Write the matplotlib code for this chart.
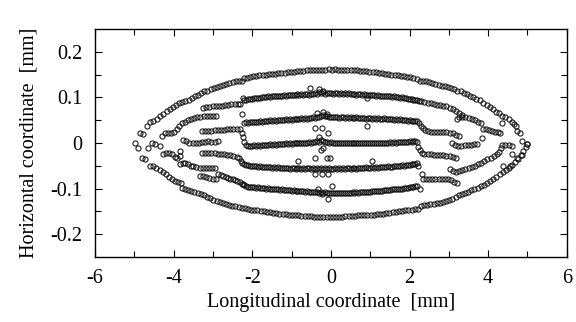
import matplotlib
matplotlib.use("Agg")
import matplotlib.pyplot as plt

plt.rcParams['font.family'] = ['Liberation Serif', 'DejaVu Serif']
plt.rcParams['axes.unicode_minus'] = False

# ---------------- data (mm) ----------------
# shared x positions of the five dense central bands
xc = [-2.20, -2.15, -2.10, -2.05, -2.00, -1.95, -1.90, -1.85, -1.80, -1.75,
      -1.70, -1.65, -1.60, -1.55, -1.50, -1.45, -1.40, -1.35, -1.30, -1.25,
      -1.20, -1.15, -1.10, -1.05, -1.00, -0.95, -0.90, -0.85, -0.80, -0.75,
      -0.70, -0.65, -0.60, -0.55, -0.50, -0.45, -0.40, -0.35, -0.30, -0.25,
      -0.20, -0.15, -0.10, -0.05, 0.00, 0.05, 0.10, 0.15, 0.20, 0.25,
      0.30, 0.35, 0.40, 0.45, 0.50, 0.55, 0.60, 0.65, 0.70, 0.75,
      0.80, 0.85, 0.90, 0.95, 1.00, 1.05, 1.10, 1.15, 1.20, 1.25,
      1.30, 1.35, 1.40, 1.45, 1.50, 1.55, 1.60, 1.65, 1.70, 1.75,
      1.80, 1.85, 1.90, 1.95, 2.00, 2.05, 2.10, 2.15, 2.20]

band1 = [.094, .095, .096, .096, .097, .098, .098, .099, .099, .100,
         .101, .100, .102, .101, .102, .103, .102, .104, .103, .104,
         .105, .104, .105, .106, .105, .106, .105, .107, .106, .107,
         .106, .108, .107, .106, .108, .107, .110, .108, .111, .109,
         .111, .108, .110, .109, .110, .108, .110, .109, .108, .110,
         .108, .109, .107, .109, .108, .107, .108, .106, .107, .108,
         .106, .107, .105, .106, .106, .105, .106, .104, .105, .104,
         .103, .104, .102, .103, .103, .101, .102, .100, .101, .099,
         .100, .098, .099, .097, .097, .096, .095, .095, .094]

band2 = [.044, .045, .044, .046, .045, .047, .046, .047, .048, .047,
         .048, .049, .048, .050, .049, .050, .049, .051, .050, .051,
         .050, .052, .051, .052, .051, .053, .052, .053, .052, .054,
         .053, .054, .053, .055, .054, .056, .055, .058, .057, .060,
         .061, .059, .060, .058, .057, .058, .056, .057, .055, .057,
         .056, .055, .056, .054, .056, .055, .054, .056, .054, .055,
         .054, .055, .053, .054, .055, .053, .054, .053, .054, .052,
         .053, .054, .052, .053, .052, .053, .051, .052, .051, .052,
         .050, .051, .050, .049, .050, .049, .048, .049, .048]

band3 = [.002, -.004, -.007, -.006, -.007, -.005, -.006, -.005, -.006, -.004,
         -.005, -.004, -.005, -.003, -.004, -.003, -.004, -.002, -.003, -.002,
         -.003, -.001, -.002, -.001, -.002, .000, -.001, .000, -.001, .001,
         .000, .001, .000, .002, .001, .003, .002, .005, .003, .006,
         .004, .002, .003, .001, .002, .000, .001, -.001, .001, .000,
         -.001, .001, .000, -.001, .001, .000, -.001, .000, -.001, .001,
         .000, -.001, .000, -.001, .000, -.001, .000, .001, .000, .001,
         .000, .001, .000, .001, .002, .001, .002, .001, .002, .003,
         .002, .003, .002, .003, .004, .003, .004, .004, .003]

band4 = [-.046, -.048, -.049, -.050, -.050, -.051, -.050, -.052, -.051, -.052,
         -.053, -.052, -.053, -.052, -.054, -.053, -.054, -.053, -.055, -.054,
         -.055, -.054, -.055, -.056, -.054, -.055, -.056, -.055, -.054, -.056,
         -.055, -.056, -.054, -.055, -.056, -.055, -.057, -.055, -.056, -.054,
         -.057, -.055, -.056, -.055, -.057, -.056, -.055, -.056, -.055, -.056,
         -.055, -.056, -.054, -.055, -.056, -.054, -.055, -.056, -.054, -.055,
         -.054, -.055, -.053, -.054, -.055, -.053, -.054, -.053, -.054, -.052,
         -.053, -.052, -.053, -.051, -.052, -.052, -.051, -.050, -.051, -.050,
         -.049, -.050, -.048, -.049, -.048, -.047, -.046, -.046, -.045]

band5 = [-.092, -.094, -.096, -.096, -.097, -.097, -.098, -.097, -.099, -.098,
         -.099, -.100, -.099, -.101, -.100, -.101, -.102, -.101, -.103, -.102,
         -.103, -.104, -.103, -.104, -.105, -.104, -.105, -.106, -.105, -.106,
         -.106, -.107, -.106, -.107, -.108, -.107, -.108, -.107, -.109, -.108,
         -.109, -.108, -.110, -.109, -.110, -.109, -.110, -.109, -.110, -.109,
         -.110, -.109, -.110, -.109, -.109, -.108, -.109, -.108, -.109, -.108,
         -.108, -.107, -.108, -.107, -.107, -.106, -.106, -.105, -.106, -.105,
         -.105, -.104, -.104, -.103, -.103, -.102, -.102, -.101, -.101, -.100,
         -.100, -.099, -.099, -.098, -.097, -.097, -.096, -.095, -.094]

outer_top = [(-4.69, .037), (-4.60, .045), (-4.52, .048), (-4.43, .052), (-4.35, .059),
             (-4.26, .064), (-4.18, .070), (-4.10, .074), (-4.02, .078), (-3.94, .084),
             (-3.86, .087), (-3.78, .089), (-3.70, .092), (-3.62, .095), (-3.54, .099),
             (-3.46, .102), (-3.38, .106), (-3.30, .110), (-3.22, .113), (-3.14, .115),
             (-3.06, .118), (-2.98, .121), (-2.90, .123), (-2.82, .126), (-2.74, .128),
             (-2.66, .130), (-2.58, .132), (-2.50, .134), (-2.42, .135), (-2.34, .136),
             (-2.27, .137), (-2.22, .142), (-2.14, .143), (-2.06, .144), (-1.98, .146),
             (-1.90, .146), (-1.82, .148), (-1.74, .149), (-1.66, .150), (-1.58, .151),
             (-1.50, .151), (-1.42, .152), (-1.34, .153), (-1.26, .154), (-1.18, .154),
             (-1.10, .155), (-1.02, .156), (-0.94, .156), (-0.86, .157), (-0.78, .158),
             (-0.70, .158), (-0.62, .159), (-0.54, .159), (-0.46, .160), (-0.38, .160),
             (-0.30, .161), (-0.22, .160), (-0.14, .161), (-0.06, .162), (0.02, .161),
             (0.10, .162), (0.18, .161), (0.26, .161), (0.34, .160), (0.42, .161),
             (0.50, .160), (0.58, .159), (0.66, .159), (0.74, .158), (0.82, .158),
             (0.90, .157), (0.98, .156), (1.06, .156), (1.14, .155), (1.22, .154),
             (1.30, .153), (1.38, .152), (1.46, .151), (1.54, .150), (1.62, .149),
             (1.70, .148), (1.78, .147), (1.86, .146), (1.94, .145), (2.02, .144),
             (2.10, .142), (2.18, .140), (2.26, .137), (2.34, .136), (2.42, .135),
             (2.50, .133), (2.58, .131), (2.66, .129), (2.74, .128), (2.82, .126),
             (2.90, .124), (2.98, .122), (3.06, .120), (3.14, .118), (3.22, .115),
             (3.30, .113), (3.38, .110), (3.46, .107), (3.54, .103), (3.62, .100),
             (3.70, .097), (3.78, .094), (3.88, .087), (3.96, .083), (4.04, .079),
             (4.12, .074), (4.20, .069), (4.28, .065), (4.36, .060), (4.44, .056),
             (4.52, .052), (4.60, .047), (4.66, .042), (4.72, .037)]

outer_bottom = [(-4.60, -.050), (-4.52, -.051), (-4.44, -.055), (-4.36, -.059), (-4.28, -.063),
                (-4.20, -.068), (-4.12, -.075), (-4.04, -.080), (-3.96, -.083), (-3.88, -.086),
                (-3.82, -.088), (-3.79, -.099), (-3.71, -.101), (-3.63, -.103), (-3.55, -.105),
                (-3.47, -.107), (-3.39, -.110), (-3.31, -.112), (-3.23, -.115), (-3.15, -.118),
                (-3.07, -.121), (-2.99, -.124), (-2.91, -.127), (-2.83, -.130), (-2.75, -.132),
                (-2.67, -.134), (-2.59, -.136), (-2.51, -.138), (-2.43, -.139), (-2.35, -.141),
                (-2.27, -.142), (-2.19, -.143), (-2.11, -.144), (-2.03, -.146), (-1.95, -.147),
                (-1.87, -.148), (-1.79, -.149), (-1.71, -.150), (-1.63, -.151), (-1.55, -.152),
                (-1.47, -.153), (-1.39, -.154), (-1.31, -.155), (-1.23, -.156), (-1.15, -.156),
                (-1.07, -.157), (-0.99, -.158), (-0.91, -.158), (-0.83, -.159), (-0.75, -.160),
                (-0.67, -.160), (-0.59, -.161), (-0.51, -.161), (-0.43, -.162), (-0.35, -.162),
                (-0.27, -.162), (-0.19, -.163), (-0.11, -.162), (-0.03, -.163), (0.05, -.162),
                (0.13, -.163), (0.21, -.162), (0.29, -.162), (0.37, -.161), (0.45, -.161),
                (0.53, -.160), (0.61, -.160), (0.69, -.159), (0.77, -.159), (0.85, -.158),
                (0.93, -.158), (1.01, -.157), (1.09, -.157), (1.17, -.156), (1.25, -.155),
                (1.33, -.155), (1.41, -.154), (1.49, -.153), (1.57, -.152), (1.65, -.151),
                (1.73, -.150), (1.81, -.149), (1.89, -.148), (1.97, -.147), (2.05, -.146),
                (2.13, -.145), (2.21, -.144), (2.29, -.138), (2.37, -.137), (2.45, -.135),
                (2.53, -.134), (2.61, -.133), (2.69, -.132), (2.77, -.131), (2.85, -.130),
                (2.93, -.128), (3.01, -.125), (3.09, -.122), (3.17, -.119), (3.25, -.115),
                (3.33, -.112), (3.41, -.110), (3.49, -.107), (3.57, -.104), (3.65, -.101),
                (3.73, -.098), (3.81, -.095), (3.89, -.092), (3.97, -.088), (4.05, -.084),
                (4.13, -.080), (4.21, -.075), (4.29, -.069), (4.37, -.064), (4.45, -.059),
                (4.53, -.054), (4.61, -.048), (4.69, -.042), (4.77, -.035), (4.83, -.027),
                (4.89, -.018), (4.95, -.009), (5.00, -.002)]

left_tip = [(-4.98, .000), (-4.91, -.011), (-4.86, .022), (-4.78, .020), (-4.81, -.032),
            (-4.73, -.036), (-4.65, -.012), (-4.56, .001), (-4.47, -.003), (-4.36, -.006)]

left_upper_a = [(-4.30, .015), (-4.22, .022), (-4.14, .021), (-4.06, .022), (-3.98, .024),
                (-3.92, .030), (-3.86, .038), (-3.80, .044), (-3.72, .047), (-3.64, .050),
                (-3.56, .052), (-3.48, .054), (-3.40, .056), (-3.32, .058), (-3.24, .059),
                (-3.16, .060), (-3.08, .060), (-3.00, .059), (-2.92, .059)]

left_upper_b = [(-3.25, .077), (-3.17, .078), (-3.09, .079), (-3.01, .080), (-2.93, .081),
                (-2.85, .082), (-2.77, .082), (-2.69, .083), (-2.61, .084), (-2.53, .085),
                (-2.45, .085), (-2.37, .086), (-2.30, .086), (-2.24, .099), (-2.25, .063)]

left_mid_c = [(-3.28, .026), (-3.20, .026), (-3.12, .027), (-3.04, .027), (-2.96, .028),
              (-2.88, .028), (-2.80, .029), (-2.72, .029), (-2.64, .030), (-2.56, .030),
              (-2.48, .030), (-2.40, .031), (-2.32, .031), (-2.27, .022), (-2.24, .014)]

left_mid_e = [(-3.76, .006), (-3.68, .004), (-3.60, .001), (-3.52, .000), (-3.44, -.001),
              (-3.36, .000), (-3.28, .002), (-3.20, .003), (-3.12, .004), (-3.04, .003),
              (-2.96, .003), (-2.88, .004), (-3.84, -.018)]

left_low_a = [(-4.27, -.024), (-4.20, -.022), (-4.12, -.023), (-4.04, -.025), (-3.97, -.030),
              (-3.92, -.033), (-3.85, -.029)]

left_low_f = [(-3.28, -.021), (-3.20, -.022), (-3.12, -.022), (-3.04, -.023), (-2.96, -.023),
              (-2.88, -.024), (-2.80, -.024), (-2.72, -.025), (-2.64, -.026), (-2.56, -.027),
              (-2.48, -.028), (-2.40, -.030), (-2.34, -.034), (-2.29, -.040), (-2.25, -.044)]

left_low_g = [(-3.84, -.047), (-3.77, -.044), (-3.71, -.043), (-3.64, -.046), (-3.57, -.050),
              (-3.50, -.051), (-3.42, -.053), (-3.34, -.054), (-3.26, -.055), (-3.18, -.055),
              (-3.10, -.055), (-3.02, -.055), (-2.95, -.054)]

left_low_h = [(-3.33, -.072), (-3.25, -.073), (-3.17, -.075), (-3.09, -.077), (-3.01, -.078),
              (-2.93, -.079), (-2.86, -.069), (-2.80, -.070), (-2.74, -.072), (-2.68, -.074),
              (-2.62, -.076), (-2.56, -.078), (-2.50, -.080), (-2.44, -.082), (-2.38, -.084),
              (-2.32, -.086), (-2.26, -.089), (-2.24, -.090)]

right_1 = [(2.24, .093), (2.30, .091), (2.38, .089), (2.46, .088), (2.54, .087),
           (2.62, .086), (2.70, .084), (2.78, .083), (2.86, .082), (2.94, .080),
           (3.02, .077), (3.10, .074), (3.18, .070), (3.26, .066), (3.33, .062)]

right_1b = [(3.20, .053), (3.27, .056), (3.34, .057), (3.42, .056), (3.50, .055),
            (3.58, .052), (3.66, .050), (3.74, .047), (3.82, .044)]

right_2 = [(2.24, .044), (2.28, .038), (2.33, .033), (2.40, .028), (2.46, .026),
           (2.54, .025), (2.62, .025), (2.70, .024), (2.78, .024), (2.86, .023),
           (2.94, .023), (3.02, .022), (3.10, .021), (3.18, .018), (3.26, .015)]

right_2b = [(3.86, .031), (3.94, .030), (4.02, .028), (4.10, .026), (4.18, .024),
            (4.26, .023), (4.30, .022)]

right_3 = [(2.22, -.008), (2.26, -.015), (2.31, -.022), (2.38, -.024), (2.46, -.025),
           (2.54, -.025), (2.62, -.026), (2.70, -.026), (2.78, -.027), (2.86, -.027),
           (2.94, -.028), (3.02, -.029), (3.10, -.031), (3.18, -.034)]

right_3b = [(3.08, -.001), (3.16, -.004), (3.24, -.006), (3.32, -.006), (3.40, -.005),
            (3.48, -.005), (3.56, -.004), (3.64, -.003), (3.72, -.002), (3.84, .011)]

right_4 = [(3.03, -.058), (3.10, -.061), (3.18, -.063), (3.26, -.062), (3.34, -.059),
           (3.42, -.057), (3.50, -.055), (3.58, -.053), (3.66, -.050), (3.74, -.047),
           (3.82, -.044), (3.90, -.040), (3.98, -.036), (4.06, -.032), (4.14, -.028),
           (4.22, -.024), (4.28, -.020), (4.32, -.012), (4.36, -.004), (4.44, -.004),
           (4.52, -.005), (4.60, -.007)]

right_5 = [(2.31, -.068), (2.34, -.079), (2.42, -.079), (2.50, -.079), (2.58, -.078),
           (2.66, -.078), (2.74, -.079), (2.82, -.078), (2.90, -.079), (2.98, -.080),
           (3.06, -.082), (3.14, -.085), (3.20, -.088)]

right_tip = [(4.36, .044), (4.73, .026), (4.80, .022), (4.86, .004), (4.98, -.002),
             (4.60, -.024), (4.73, -.033), (4.86, -.026), (4.37, -.050), (4.55, -.050),
             (2.22, -.050), (2.26, -.102)]

scatter_mid = [(-0.53, .120), (-0.30, .118), (-0.20, .114), (0.92, .099),
               (-0.36, .066), (-0.20, .068), (-0.10, .064), (-0.41, .033), (-0.23, .033),
               (0.92, .037), (-0.08, .022), (-0.30, .013), (-0.20, -.011), (-0.25, -.015),
               (-0.41, -.033), (-0.10, -.033), (-0.03, -.033), (-0.84, -.039), (1.04, -.039),
               (-0.41, -.068), (-0.23, -.068), (-0.08, -.068), (-0.33, -.101), (-0.23, -.112),
               (-0.08, -.123), (0.03, -.094)]

segments = [outer_top, outer_bottom, left_tip, left_upper_a, left_upper_b, left_mid_c,
            left_mid_e, left_low_a, left_low_f, left_low_g, left_low_h, right_1, right_1b,
            right_2, right_2b, right_3, right_3b, right_4, right_5, right_tip, scatter_mid]

x_ticks = [-6, -4, -2, 0, 2, 4, 6]
x_minor = [-5, -3, -1, 1, 3, 5]
y_ticks = [-0.2, -0.1, 0, 0.1, 0.2]
y_minor = [-0.15, -0.05, 0.05, 0.15]

# ---------------- figure ----------------
fig = plt.figure(figsize=(5.76, 3.22), dpi=100)
ax = fig.add_axes([0.165, 0.202, 0.819, 0.708])

mk = dict(linestyle='none', marker='o', markersize=3.7, markerfacecolor='none',
          markeredgecolor='#111111', markeredgewidth=0.75)

for band in (band1, band2, band3, band4, band5):
    ax.plot(xc, band, **mk)
for seg in segments:
    xs, ys = zip(*seg)
    ax.plot(xs, ys, **mk)

ax.set_xlim(-6, 6)
ax.set_ylim(-0.25, 0.25)
ax.set_xticks(x_ticks)
ax.set_xticklabels(['-6', '-4', '-2', '0', '2', '4', '6'])
ax.set_xticks(x_minor, minor=True)
ax.set_yticks(y_ticks)
ax.set_yticklabels(['-0.2', '-0.1', '0', '0.1', '0.2'])
ax.set_yticks(y_minor, minor=True)

ax.tick_params(which='both', direction='in', top=True, right=True, width=0.8,
               labelsize=14.5, color='black')
ax.tick_params(which='major', length=5, pad=9)
ax.tick_params(which='minor', length=4)
for s in ax.spines.values():
    s.set_linewidth(1.0)

ax.set_xlabel('Longitudinal coordinate  [mm]', fontsize=14.5, labelpad=3)
ax.set_ylabel('Horizontal coordinate  [mm]', fontsize=14.5, labelpad=9)

fig.savefig('out.png', dpi=100)
